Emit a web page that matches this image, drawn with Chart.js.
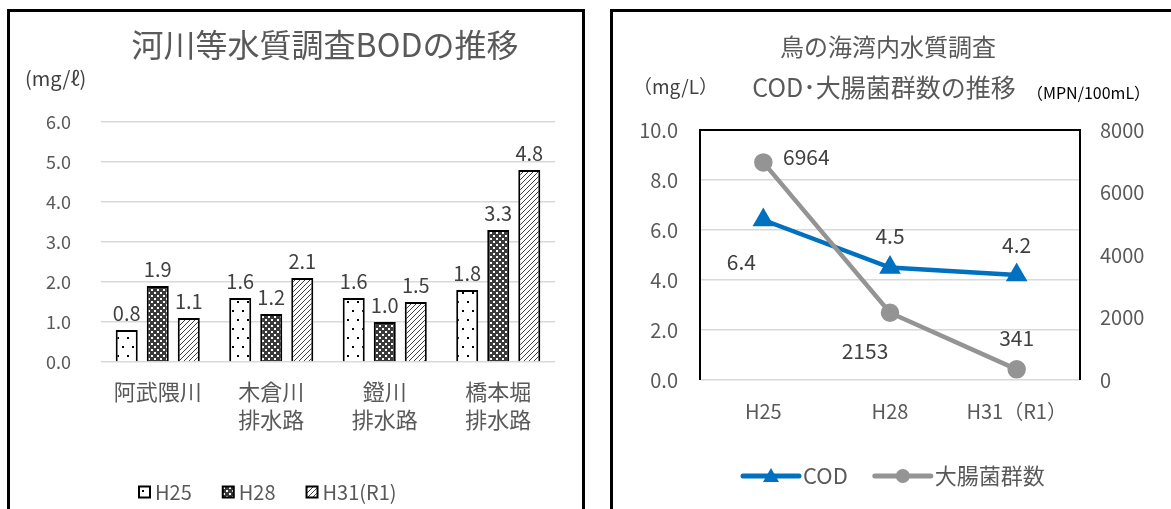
<!DOCTYPE html>
<html>
<head>
<meta charset="utf-8">
<script src="https://cdn.jsdelivr.net/npm/chart.js@4/dist/chart.umd.min.js"></script>
<style>
  html, body { margin: 0; padding: 0; background: #fff; }
  body { width: 1171px; height: 509px; position: relative; overflow: hidden; }
  .frame { position: absolute; border: 3px solid #000; border-bottom: none; box-sizing: border-box; pointer-events: none; }
  #frameL { left: 7px; top: 9px; width: 578px; height: 520px; }
  #frameR { left: 610px; top: 9px; width: 600px; height: 520px; }
  canvas { position: absolute; top: 0; }
  #bod { left: 0; }
  #bay { left: 597px; }
</style>
</head>
<body>
<canvas id="bod" width="597" height="509"></canvas>
<canvas id="bay" width="574" height="509"></canvas>
<div class="frame" id="frameL"></div>
<div class="frame" id="frameR"></div>
<script>
// ---- River BOD (mg/ℓ) ----
const riverSites = ['阿武隈川', ['木倉川', '排水路'], ['鐙川', '排水路'], ['橋本堀', '排水路']];
const bodH25 = [0.8, 1.6, 1.6, 1.8];
const bodH28 = [1.9, 1.2, 1.0, 3.3];
const bodH31 = [1.1, 2.1, 1.5, 4.8];
const bodSeries = ['H25', 'H28', 'H31(R1)'];

// ---- Bay COD (mg/L) and coliform count (MPN/100mL) ----
const surveyYears = ['H25', 'H28', 'H31（R1）'];
const codValues = [6.4, 4.5, 4.2];
const coliformValues = [6964, 2153, 341];
const baySeries = ['COD', '大腸菌群数'];

const FONT = '"Noto Sans CJK JP", "Noto Sans", sans-serif';
const TEXT = '#595959';
const LABEL = '#404040';

function makePattern(w, h, paint) {
  const c = document.createElement('canvas');
  c.width = w; c.height = h;
  const g = c.getContext('2d');
  paint(g, w, h);
  return g.createPattern(c, 'repeat');
}
const sparseDots = makePattern(10, 18, g => {
  g.fillStyle = '#fff'; g.fillRect(0, 0, 10, 18);
  g.fillStyle = '#000'; g.fillRect(2, 4, 2, 2); g.fillRect(7, 13, 2, 2);
});
const darkDots = makePattern(6, 6, g => {
  g.fillStyle = '#3a3a3a'; g.fillRect(0, 0, 6, 6);
  g.fillStyle = '#fff'; g.fillRect(1, 1, 2, 2); g.fillRect(4, 4, 2, 2);
});
const hatch = makePattern(5, 5, g => {
  g.fillStyle = '#fff'; g.fillRect(0, 0, 5, 5);
  g.strokeStyle = '#404040'; g.lineWidth = 1;
  g.beginPath();
  g.moveTo(-1, 6); g.lineTo(6, -1);
  g.moveTo(-1, 1); g.lineTo(1, -1);
  g.moveTo(4, 6); g.lineTo(6, 4);
  g.stroke();
});
const bodFills = [sparseDots, darkDots, hatch];

// value labels above each bar, title, unit and legend
const bodDecor = {
  id: 'bodDecor',
  afterDatasetsDraw(chart) {
    const ctx = chart.ctx;
    ctx.save();
    ctx.font = '20px ' + FONT;
    ctx.fillStyle = LABEL;
    ctx.textAlign = 'center';
    ctx.textBaseline = 'middle';
    chart.data.datasets.forEach((ds, i) => {
      chart.getDatasetMeta(i).data.forEach((bar, j) => {
        ctx.fillText(ds.data[j].toFixed(1), bar.x, bar.y - 17);
      });
    });
    ctx.restore();
  },
  afterDraw(chart) {
    const ctx = chart.ctx;
    const area = chart.chartArea;
    ctx.save();
    ctx.fillStyle = TEXT;
    ctx.textBaseline = 'middle';
    ctx.textAlign = 'center';
    ctx.font = '32px ' + FONT;
    ctx.fillText('河川等水質調査BODの推移', area.left + 224, 45);
    ctx.textAlign = 'left';
    ctx.fillStyle = LABEL;
    ctx.font = '20px ' + FONT;
    ctx.fillText('(mg/ℓ)', 25, 78);
    // legend
    ctx.font = '20px ' + FONT;
    ctx.fillStyle = TEXT;
    let x = area.left + 38;
    const y = 492;
    chart.data.datasets.forEach((ds, i) => {
      ctx.fillStyle = ds.backgroundColor;
      ctx.fillRect(x, y - 5.5, 11, 11);
      ctx.strokeStyle = '#000';
      ctx.lineWidth = 2;
      ctx.strokeRect(x, y - 5.5, 11, 11);
      ctx.fillStyle = TEXT;
      ctx.fillText(ds.label, x + 16, y);
      x += 16 + ctx.measureText(ds.label).width + 31;
    });
    ctx.restore();
  }
};

new Chart(document.getElementById('bod'), {
  type: 'bar',
  data: {
    labels: riverSites,
    datasets: [bodH25, bodH28, bodH31].map((vals, i) => ({
      label: bodSeries[i],
      data: vals,
      backgroundColor: bodFills[i],
      borderColor: '#000',
      borderWidth: 2,
      categoryPercentage: 0.82,
      barPercentage: 0.71
    }))
  },
  options: {
    responsive: false,
    animation: false,
    devicePixelRatio: 1,
    layout: { padding: { left: 0, right: 42, top: 122, bottom: 0 } },
    plugins: { legend: { display: false }, tooltip: { enabled: false } },
    scales: {
      x: {
        grid: { display: false, drawTicks: false },
        border: { display: false },
        ticks: { font: { family: FONT, size: 22, lineHeight: 1.27 }, color: TEXT, padding: 16, maxRotation: 0, autoSkip: false },
        afterFit(s) { s.height = 147; }
      },
      y: {
        min: 0, max: 6,
        ticks: { stepSize: 1, callback: v => v.toFixed(1), font: { family: FONT, size: 18 }, color: TEXT, padding: 30 },
        grid: { color: '#d9d9d9', lineWidth: 1.5, drawTicks: false },
        border: { display: false },
        afterFit(s) { s.width = 101; }
      }
    }
  },
  plugins: [bodDecor]
});

// ---- bay chart ----
// label placement around each point: [dx, dy]
const codLabelShift = [[-22, 42], [0, -31], [0, -30]];
const coliformLabelShift = [[43, -5], [-25, 38], [0, -31]];

const bayDecor = {
  id: 'bayDecor',
  afterDatasetsDraw(chart) {
    const ctx = chart.ctx;
    const area = chart.chartArea;
    ctx.save();
    // plot frame: top, left, right in black
    ctx.strokeStyle = '#000';
    ctx.lineWidth = 2;
    ctx.beginPath();
    ctx.moveTo(area.left, area.bottom); ctx.lineTo(area.left, area.top);
    ctx.lineTo(area.right, area.top); ctx.lineTo(area.right, area.bottom);
    ctx.stroke();
    ctx.font = '21px ' + FONT;
    ctx.fillStyle = LABEL;
    ctx.textAlign = 'center';
    ctx.textBaseline = 'middle';
    const shifts = [codLabelShift, coliformLabelShift];
    chart.data.datasets.forEach((ds, i) => {
      chart.getDatasetMeta(i).data.forEach((pt, j) => {
        const v = ds.data[j];
        const txt = i === 0 ? v.toFixed(1) : String(v);
        ctx.fillText(txt, pt.x + shifts[i][j][0], pt.y + shifts[i][j][1]);
      });
    });
    ctx.restore();
  },
  afterDraw(chart) {
    const ctx = chart.ctx;
    const area = chart.chartArea;
    ctx.save();
    ctx.fillStyle = TEXT;
    ctx.textBaseline = 'middle';
    ctx.textAlign = 'center';
    ctx.font = '24px ' + FONT;
    ctx.fillText('鳥の海湾内水質調査', area.left + 188, 47);
    ctx.font = '25px ' + FONT;
    ctx.fillText('COD･大腸菌群数の推移', area.left + 184, 87);
    ctx.textAlign = 'left';
    ctx.font = '19px ' + FONT;
    ctx.fillStyle = LABEL;
    ctx.fillText('（mg/L）', 36, 87);
    ctx.font = '16px ' + FONT;
    ctx.fillStyle = '#000';
    ctx.fillText('（MPN/100mL）', 430, 93);
    // legend: line with marker
    const y = 476;
    let x = area.left + 43;
    chart.data.datasets.forEach((ds, i) => {
      ctx.strokeStyle = ds.borderColor;
      ctx.lineWidth = 5;
      ctx.lineCap = 'round';
      ctx.beginPath(); ctx.moveTo(x, y); ctx.lineTo(x + 56, y); ctx.stroke();
      ctx.fillStyle = ds.pointBackgroundColor;
      ctx.beginPath();
      if (ds.pointStyle === 'triangle') {
        ctx.moveTo(x + 28, y - 8); ctx.lineTo(x + 36, y + 6); ctx.lineTo(x + 20, y + 6); ctx.closePath();
      } else {
        ctx.arc(x + 28, y, 7, 0, Math.PI * 2);
      }
      ctx.fill();
      ctx.fillStyle = TEXT;
      ctx.font = '22px ' + FONT;
      ctx.fillText(ds.label, x + 60, y);
      x += 60 + ctx.measureText(ds.label).width + 27;
    });
    ctx.restore();
  }
};

new Chart(document.getElementById('bay'), {
  type: 'line',
  data: {
    labels: surveyYears,
    datasets: [
      {
        label: baySeries[0], data: codValues, yAxisID: 'y',
        borderColor: '#0070C0', backgroundColor: '#0070C0', pointBackgroundColor: '#0070C0',
        pointBorderColor: '#0070C0', borderWidth: 4.5, pointStyle: 'triangle', pointRadius: 8,
        order: 2
      },
      {
        label: baySeries[1], data: coliformValues, yAxisID: 'y1',
        borderColor: '#949494', backgroundColor: '#949494', pointBackgroundColor: '#949494',
        pointBorderColor: '#949494', borderWidth: 4.5, pointStyle: 'circle', pointRadius: 7,
        order: 1
      }
    ]
  },
  options: {
    responsive: false,
    animation: false,
    devicePixelRatio: 1,
    layout: { padding: { left: 0, right: 0, top: 130, bottom: 0 } },
    plugins: { legend: { display: false }, tooltip: { enabled: false } },
    scales: {
      x: {
        offset: true,
        grid: { display: false, drawTicks: false, offset: true },
        border: { display: false },
        ticks: { font: { family: FONT, size: 20 }, color: TEXT, padding: 19 },
        afterFit(s) { s.height = 129; }
      },
      y: {
        position: 'left', min: 0, max: 10,
        ticks: { stepSize: 2, callback: v => v.toFixed(1), font: { family: FONT, size: 20 }, color: TEXT, padding: 22 },
        grid: { color: '#d9d9d9', lineWidth: 1.5, drawTicks: false },
        border: { display: false },
        afterFit(s) { s.width = 103; }
      },
      y1: {
        position: 'right', min: 0, max: 8000,
        ticks: { stepSize: 2000, callback: v => String(v), font: { family: FONT, size: 20 }, color: TEXT, padding: 20 },
        grid: { display: false, drawTicks: false },
        border: { display: false },
        afterFit(s) { s.width = 91; }
      }
    }
  },
  plugins: [bayDecor]
});
</script>
</body>
</html>
